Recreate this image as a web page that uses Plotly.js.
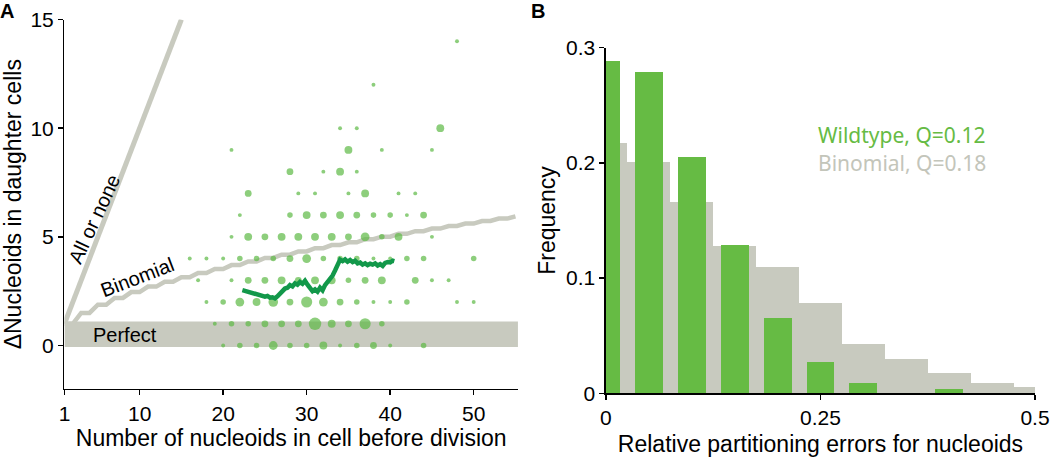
<!DOCTYPE html>
<html><head><meta charset="utf-8">
<script src="https://cdn.plot.ly/plotly-3.0.1.min.js"></script>
<style>html,body{margin:0;padding:0;background:#fff}#chart{width:1050px;height:458px}</style>
</head><body><div id="chart"></div>
<script>
// ---------- Panel A data ----------
// scatter: number of nucleoids before division (N), ΔN, count of cells (marker area)
const dotN = [
  20,22,24,26,28,30,32,34,36,38,40,44,
  19,21,23,25,27,29,31,33,35,37,39,
  18,20,22,24,26,28,30,32,34,36,38,40,42,48,50,
  17,21,23,25,27,29,31,33,35,37,39,43,45,47,
  16,18,20,22,24,26,28,30,32,34,36,38,40,42,44,50,
  21,23,25,27,29,31,33,35,37,39,41,45,
  22,28,30,32,34,36,38,40,42,44,
  23,29,31,35,37,41,43,
  28,32,34,36,
  21,35,39,45,
  34,36,46,
  38,
  48
];
const dotDelta = [
  0,0,0,0,0,0,0,0,0,0,0,0,
  1,1,1,1,1,1,1,1,1,1,1,
  2,2,2,2,2,2,2,2,2,2,2,2,2,2,2,
  3,3,3,3,3,3,3,3,3,3,3,3,3,3,
  4,4,4,4,4,4,4,4,4,4,4,4,4,4,4,4,
  5,5,5,5,5,5,5,5,5,5,5,5,
  6,6,6,6,6,6,6,6,6,6,
  7,7,7,7,7,7,7,
  8,8,8,8,
  9,9,9,9,
  10,10,10,
  12,
  14
];
const dotCount = [
  1,2,2,5,2,2,4,1,2,3,1,2,
  1,2,2,3,3,3,10,4,3,8,2,
  1,2,5,4,6,3,8,5,3,2,1,1,2,1,1,
  1,1,3,3,4,3,4,4,2,3,4,3,1,1,
  1,1,1,2,2,2,3,5,2,2,2,1,1,2,2,2,
  1,4,3,4,4,4,4,3,5,2,4,1,
  1,2,4,3,4,3,2,2,1,3,
  3,1,1,1,4,1,1,
  3,1,4,1,
  1,4,1,1,
  1,1,4,
  1,
  1
];
const avgN = [22.3,22.6,22.9,23.2,23.5,23.8,24.1,24.4,24.7,25.0,25.3,25.6,25.9,26.2,26.5,26.8,27.1,27.4,27.7,28.0,28.3,28.6,28.9,29.2,29.5,29.8,30.1,30.4,30.7,31.0,31.3,31.6,31.9,32.2,32.5,32.8,33.1,33.4,33.7,34.0,34.3,34.6,34.9,35.2,35.5,35.8,36.1,36.4,36.7,37.0,37.3,37.6,37.9,38.2,38.5,38.8,39.1,39.4,39.7,40.0,40.3,40.5];
const avgDelta = [2.55,2.52,2.50,2.46,2.44,2.40,2.37,2.30,2.32,2.25,2.28,2.20,2.22,2.17,2.26,2.38,2.45,2.62,2.66,2.78,2.72,2.86,2.80,2.92,2.84,2.98,2.80,2.66,2.50,2.58,2.48,2.66,2.54,2.78,2.92,3.02,3.22,3.45,3.70,3.95,3.88,3.96,3.86,3.93,3.84,3.90,3.78,3.82,3.72,3.78,3.70,3.76,3.72,3.78,3.68,3.74,3.66,3.80,3.84,3.82,3.90,3.88];
// model curves
const binomN = [1,2,3,4,5,6,7,8,9,10,11,12,13,14,15,16,17,18,19,20,21,22,23,24,25,26,27,28,29,30,31,32,33,34,35,36,37,38,39,40,41,42,43,44,45,46,47,48,49,50,51,52,53,54,55];
const binomDelta = [1.00,1.00,1.50,1.50,1.88,1.88,2.19,2.19,2.46,2.46,2.71,2.71,2.93,2.93,3.14,3.14,3.34,3.34,3.52,3.52,3.70,3.70,3.87,3.87,4.03,4.03,4.18,4.18,4.33,4.33,4.48,4.48,4.62,4.62,4.75,4.75,4.89,4.89,5.01,5.01,5.14,5.14,5.26,5.26,5.38,5.38,5.50,5.50,5.61,5.61,5.73,5.73,5.84,5.84,5.94];
const allNoneN = [1, 15];
const allNoneDelta = [1, 15];
const perfectN = [1, 55.3, 55.3, 1];
const perfectDelta = [-0.07, -0.07, 1.1, 1.1];
const xTicksA = [1, 10, 20, 30, 40, 50];
const yTicksA = [0, 5, 10, 15];

// ---------- Panel B data ----------
const errBins = [0, 0.05, 0.10, 0.15, 0.20, 0.25, 0.30, 0.35, 0.40, 0.45, 0.50];
const wildtypeFreq = [0.288, 0.279, 0.205, 0.129, 0.065, 0.0275, 0.0085, 0, 0.0038, 0, 0];
const binomialFreq = [0.217, 0.201, 0.166, 0.128, 0.110, 0.078, 0.043, 0.030, 0.0175, 0.0088, 0.0058];
const xTicksB = [0, 0.25, 0.5];
const xTickTextB = ['0', '0.25', '0.5'];
const yTicksB = [0, 0.1, 0.2, 0.3];
const yTickTextB = ['0', '0.1', '0.2', '0.3'];

const GREEN = '#66bb44', DOTGREEN = '#5db944', DARKGREEN = '#12984a', GRAY = '#c8cabf';
const FONT = 'Liberation Sans, Arial, Helvetica, sans-serif';

const traces = [
  {x: perfectN, y: perfectDelta, type: 'scatter', mode: 'lines', fill: 'toself', fillcolor: GRAY,
   line: {width: 0, color: GRAY}, xaxis: 'x', yaxis: 'y', hoverinfo: 'skip'},
  {x: allNoneN, y: allNoneDelta, type: 'scatter', mode: 'lines', line: {color: GRAY, width: 5}, xaxis: 'x', yaxis: 'y'},
  {x: binomN, y: binomDelta, type: 'scatter', mode: 'lines', line: {color: GRAY, width: 4.5}, xaxis: 'x', yaxis: 'y'},
  {x: dotN, y: dotDelta, type: 'scatter', mode: 'markers',
   marker: {color: DOTGREEN, size: dotCount, sizemode: 'area', sizeref: 0.13, line: {width: 0}}, xaxis: 'x', yaxis: 'y'},
  {x: avgN, y: avgDelta, type: 'scatter', mode: 'lines', line: {color: DARKGREEN, width: 4.5}, xaxis: 'x', yaxis: 'y'},
  {x: errBins, y: binomialFreq, type: 'bar', width: 0.05, marker: {color: GRAY, line: {width: 0}}, xaxis: 'x2', yaxis: 'y2'},
  {x: errBins, y: wildtypeFreq, type: 'bar', width: 0.0325, marker: {color: GREEN, line: {width: 0}}, xaxis: 'x2', yaxis: 'y2'}
];

const axisBase = {showgrid: false, zeroline: false, showline: true, linecolor: '#000', linewidth: 1.5,
  ticks: 'outside', ticklen: 5, tickwidth: 1.5, tickcolor: '#000',
  tickfont: {family: FONT, size: 21, color: '#000'}};
const titleFont = {family: FONT, size: 23, color: '#000'};

const layout = {
  width: 1050, height: 458,
  margin: {l: 0, r: 0, t: 0, b: 0},
  paper_bgcolor: '#fff', plot_bgcolor: 'rgba(0,0,0,0)',
  showlegend: false, barmode: 'overlay', bargap: 0,
  xaxis: Object.assign({}, axisBase, {domain: [0.0614, 0.4933], range: [1, 55.3], tickvals: xTicksA,
    anchor: 'y', title: {text: 'Number of nucleoids in cell before division', standoff: 4, font: titleFont}}),
  yaxis: Object.assign({}, axisBase, {domain: [0.1507, 0.9574], range: [-2, 15], tickvals: yTicksA,
    anchor: 'x', title: {text: 'ΔNucleoids in daughter cells', standoff: 4, font: titleFont}}),
  xaxis2: Object.assign({}, axisBase, {domain: [0.5771, 0.9857], range: [0, 0.5], tickvals: xTicksB, ticktext: xTickTextB,
    anchor: 'y2', title: {text: 'Relative partitioning errors for nucleoids', standoff: 8, font: titleFont}}),
  yaxis2: Object.assign({}, axisBase, {domain: [0.1413, 0.8959], range: [0, 0.3], tickvals: yTicksB, ticktext: yTickTextB,
    anchor: 'x2', title: {text: 'Frequency', standoff: 4, font: titleFont}}),
  annotations: [
    {text: '<b>A</b>', xref: 'paper', yref: 'paper', x: -0.002, y: 1.005, xanchor: 'left', yanchor: 'top', showarrow: false,
     font: {family: FONT, size: 20, color: '#000'}},
    {text: '<b>B</b>', xref: 'paper', yref: 'paper', x: 0.5035, y: 1.005, xanchor: 'left', yanchor: 'top', showarrow: false,
     font: {family: FONT, size: 20, color: '#000'}},
    {text: 'Perfect', xref: 'x', yref: 'y', x: 8.2, y: 0.5, showarrow: false, font: {family: FONT, size: 20, color: '#000'}},
    {text: 'Binomial', xref: 'x', yref: 'y', x: 9.8, y: 3.15, textangle: -21, showarrow: false, font: {family: FONT, size: 20, color: '#000'}},
    {text: 'All or none', xref: 'x', yref: 'y', x: 4.6, y: 5.8, textangle: -65, showarrow: false, font: {family: FONT, size: 20, color: '#000'}},
    {text: 'Wildtype, Q=0.12', xref: 'x2', yref: 'y2', x: 0.245, y: 0.2246, xanchor: 'left', showarrow: false,
     font: {family: 'Noto Sans, Open Sans, sans-serif', size: 21, color: GREEN}},
    {text: 'Binomial, Q=0.18', xref: 'x2', yref: 'y2', x: 0.245, y: 0.2003, xanchor: 'left', showarrow: false,
     font: {family: 'Noto Sans, Open Sans, sans-serif', size: 21, color: '#c3c5ba'}}
  ]
};

Plotly.newPlot('chart', traces, layout, {displayModeBar: false, staticPlot: true});
</script>
</body></html>
